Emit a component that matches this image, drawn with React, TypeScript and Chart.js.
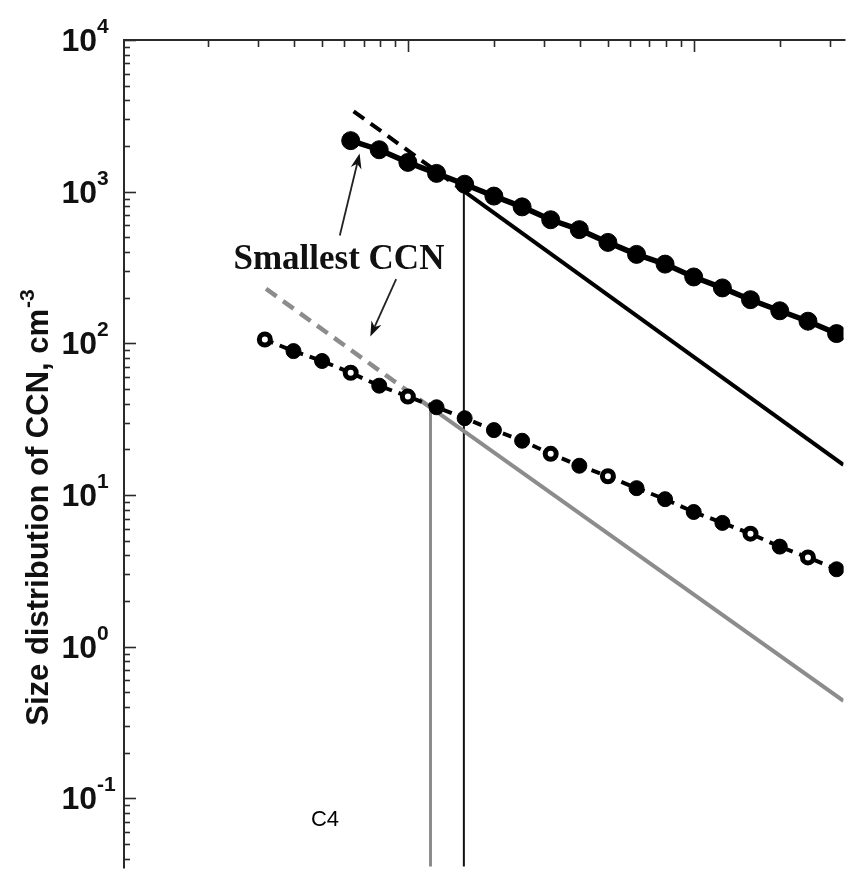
import React, { useEffect, useRef } from "react";
import { Chart, registerables } from "chart.js";

Chart.register(...registerables);

// ---- data ----
const topSizes = [0.0631, 0.0794, 0.1, 0.126, 0.158, 0.2, 0.251, 0.316, 0.398, 0.501, 0.631, 0.794, 1.0, 1.26, 1.58, 2.0, 2.51, 3.16];
const topValues = [2170, 1890, 1560, 1320, 1120, 935, 794, 653, 562, 463, 386, 333, 274, 232, 194, 164, 140, 116];

const lowSizes = [0.0316, 0.0398, 0.0501, 0.0631, 0.0794, 0.1, 0.126, 0.158, 0.2, 0.251, 0.316, 0.398, 0.501, 0.631, 0.794, 1.0, 1.26, 1.58, 2.0, 2.51, 3.16];
const lowValues = [106, 88.9, 76.5, 64.0, 52.6, 44.6, 37.9, 32.1, 26.8, 22.8, 18.7, 15.6, 13.3, 11.1, 9.39, 7.73, 6.55, 5.56, 4.57, 3.88, 3.24];
const lowOpen = [true, false, false, true, false, true, false, false, false, false, true, false, true, false, false, false, false, true, false, true, false];

const blackFitDashedX = [0.0646, 0.157];
const blackFitDashedY = [3390, 1009];
const blackFitSolidX = [0.157, 3.34];
const blackFitSolidY = [1009, 15.8];
const grayFitDashedX = [0.0319, 0.12];
const grayFitDashedY = [229, 37.8];
const grayFitSolidX = [0.12, 3.34];
const grayFitSolidY = [37.8, 0.44];
const blackCutX = [0.157, 0.157];
const blackCutY = [1009, 0.01];
const grayCutX = [0.12, 0.12];
const grayCutY = [37.8, 0.01];

const xRange = [0.010162, 3.342];
const yRange = [0.03556, 10000];
const yTickExponents = [-1, 0, 1, 2, 3, 4];

const labelText = "Smallest CCN";
const labelPos = [0.0574, 309];
const arrow1 = [0.0578, 514, 0.0678, 1782];
const arrow2 = [0.091, 265, 0.0739, 111];
const panelText = "C4";
const panelPos = [0.0513, 0.0719];
const yTitle = "Size distribution of CCN, cm";
const yTitleSup = "-3";

const zip = (xs: number[], ys: number[]) => xs.map((v, i) => ({ x: v, y: ys[i] }));

const GRAY = "#8c8c8c";

const decorPlugin = {
  id: "decor",
  beforeDraw(chart: any) {
    const ctx = chart.ctx;
    ctx.save();
    ctx.fillStyle = "#fff";
    ctx.fillRect(0, 0, chart.width, chart.height);
    ctx.restore();
  },
  afterDraw(chart: any) {
    const { ctx, chartArea } = chart;
    const xs = chart.scales.x;
    const ys = chart.scales.y;
    const L = chartArea.left;
    const T = chartArea.top;
    ctx.save();
    // axis lines
    ctx.strokeStyle = "#2a2a2a";
    ctx.lineWidth = 2;
    ctx.beginPath();
    ctx.moveTo(L, chartArea.bottom + 2);
    ctx.lineTo(L, T);
    ctx.lineTo(chartArea.right + 2, T);
    ctx.stroke();
    // y ticks
    ctx.lineWidth = 1.6;
    for (let e = -3; e <= 4; e++) {
      for (let m = 1; m <= 9; m++) {
        const v = m * Math.pow(10, e);
        if (v < yRange[0] || v > yRange[1] * 1.0001) continue;
        const py = Math.round(ys.getPixelForValue(v)) + 0.5;
        const len = m === 1 ? 12 : 6;
        ctx.beginPath();
        ctx.moveTo(L, py);
        ctx.lineTo(L + len, py);
        ctx.stroke();
      }
    }
    // x ticks (top)
    for (let e = -3; e <= 1; e++) {
      for (let m = 1; m <= 9; m++) {
        const v = m * Math.pow(10, e);
        if (v < xRange[0] * 1.0001 || v > xRange[1]) continue;
        const px = Math.round(xs.getPixelForValue(v)) + 0.5;
        const len = m === 1 ? 12 : 7;
        ctx.beginPath();
        ctx.moveTo(px, T);
        ctx.lineTo(px, T + len);
        ctx.stroke();
      }
    }
    // y tick labels
    ctx.fillStyle = "#111";
    for (const e of yTickExponents) {
      const py = ys.getPixelForValue(Math.pow(10, e));
      ctx.font = "bold 32px 'Liberation Sans', Arial, sans-serif";
      ctx.textAlign = "right";
      ctx.textBaseline = "alphabetic";
      ctx.fillText("10", 97, py + 11);
      ctx.font = "bold 21px 'Liberation Sans', Arial, sans-serif";
      ctx.textAlign = "left";
      ctx.fillText(String(e), 97, py - 7);
    }
    // y title
    ctx.save();
    ctx.translate(48, 508);
    ctx.rotate(-Math.PI / 2);
    ctx.font = "bold 31px 'Liberation Sans', Arial, sans-serif";
    const w1 = ctx.measureText(yTitle).width;
    ctx.font = "bold 21px 'Liberation Sans', Arial, sans-serif";
    const w2 = ctx.measureText(yTitleSup).width;
    const start = -(w1 + w2) / 2;
    ctx.textAlign = "left";
    ctx.textBaseline = "alphabetic";
    ctx.font = "bold 31px 'Liberation Sans', Arial, sans-serif";
    ctx.fillText(yTitle, start, 0);
    ctx.font = "bold 21px 'Liberation Sans', Arial, sans-serif";
    ctx.fillText(yTitleSup, start + w1 + 1, -14);
    ctx.restore();

    // annotation text
    ctx.fillStyle = "#111";
    ctx.font = "bold 35px 'Liberation Serif', 'Times New Roman', serif";
    ctx.textAlign = "center";
    ctx.textBaseline = "alphabetic";
    ctx.fillText(labelText, xs.getPixelForValue(labelPos[0]), ys.getPixelForValue(labelPos[1]));

    const drawArrow = (a: number[]) => {
      const x0 = xs.getPixelForValue(a[0]);
      const y0 = ys.getPixelForValue(a[1]);
      const x1 = xs.getPixelForValue(a[2]);
      const y1 = ys.getPixelForValue(a[3]);
      const ang = Math.atan2(y1 - y0, x1 - x0);
      const hl = 15;
      const hw = 5.5;
      ctx.strokeStyle = "#222";
      ctx.lineWidth = 1.8;
      ctx.beginPath();
      ctx.moveTo(x0, y0);
      ctx.lineTo(x1 - Math.cos(ang) * hl * 0.7, y1 - Math.sin(ang) * hl * 0.7);
      ctx.stroke();
      ctx.fillStyle = "#111";
      ctx.beginPath();
      ctx.moveTo(x1, y1);
      const bx = x1 - Math.cos(ang) * hl;
      const by = y1 - Math.sin(ang) * hl;
      const nx = -Math.sin(ang);
      const ny = Math.cos(ang);
      ctx.lineTo(bx + nx * hw, by + ny * hw);
      ctx.lineTo(x1 - Math.cos(ang) * hl * 0.7, y1 - Math.sin(ang) * hl * 0.7);
      ctx.lineTo(bx - nx * hw, by - ny * hw);
      ctx.closePath();
      ctx.fill();
    };
    drawArrow(arrow1);
    drawArrow(arrow2);

    ctx.fillStyle = "#000";
    ctx.font = "22px 'Liberation Sans', Arial, sans-serif";
    ctx.textAlign = "center";
    ctx.textBaseline = "middle";
    ctx.fillText(panelText, xs.getPixelForValue(panelPos[0]), ys.getPixelForValue(panelPos[1]));
    ctx.restore();
  },
};

export default function App() {
  const ref = useRef<HTMLCanvasElement>(null);
  useEffect(() => {
    const canvas = ref.current!;
    const chart = new Chart(canvas, {
      type: "scatter",
      data: {
        datasets: [
          {
            label: "CCN (upper)",
            data: zip(topSizes, topValues),
            showLine: true,
            borderColor: "#000",
            borderWidth: 5.5,
            pointRadius: 9,
            pointBackgroundColor: "#000",
            pointBorderColor: "#000",
            pointBorderWidth: 1,
            order: 0,
          },
          {
            label: "CCN (lower)",
            data: zip(lowSizes, lowValues),
            showLine: true,
            borderColor: "#000",
            borderWidth: 4,
            borderDash: [9, 7],
            pointRadius: lowOpen.map((o) => (o ? 5.5 : 7.5)),
            pointBackgroundColor: lowOpen.map((o) => (o ? "#fff" : "#000")),
            pointBorderColor: "#000",
            pointBorderWidth: lowOpen.map((o) => (o ? 5 : 1)),
            order: 0,
          },
          {
            label: "fit upper dashed",
            data: zip(blackFitDashedX, blackFitDashedY),
            showLine: true,
            borderColor: "#000",
            borderWidth: 4,
            borderDash: [13, 8],
            pointRadius: 0,
            order: 1,
          },
          {
            label: "fit upper",
            data: zip(blackFitSolidX, blackFitSolidY),
            showLine: true,
            borderColor: "#000",
            borderWidth: 4,
            pointRadius: 0,
            order: 1,
          },
          {
            label: "fit lower dashed",
            data: zip(grayFitDashedX, grayFitDashedY),
            showLine: true,
            borderColor: GRAY,
            borderWidth: 4.5,
            borderDash: [13, 8],
            pointRadius: 0,
            order: 2,
          },
          {
            label: "fit lower",
            data: zip(grayFitSolidX, grayFitSolidY),
            showLine: true,
            borderColor: GRAY,
            borderWidth: 4,
            pointRadius: 0,
            order: 2,
          },
          {
            label: "cut upper",
            data: zip(blackCutX, blackCutY),
            showLine: true,
            borderColor: "#111",
            borderWidth: 2,
            pointRadius: 0,
            order: 3,
          },
          {
            label: "cut lower",
            data: zip(grayCutX, grayCutY),
            showLine: true,
            borderColor: GRAY,
            borderWidth: 3,
            pointRadius: 0,
            order: 3,
          },
        ],
      },
      options: {
        responsive: false,
        maintainAspectRatio: false,
        animation: false,
        devicePixelRatio: 1,
        layout: { padding: { left: 124, top: 40, right: 0, bottom: 0 } },
        plugins: { legend: { display: false }, tooltip: { enabled: false } },
        events: [],
        scales: {
          x: { type: "logarithmic", min: xRange[0], max: xRange[1], display: false },
          y: { type: "logarithmic", min: yRange[0], max: yRange[1], display: false },
        },
      },
      plugins: [decorPlugin],
    });
    return () => chart.destroy();
  }, []);
  return (
    <div style={{ position: "fixed", left: 0, top: 0, width: 854, height: 877, background: "#fff" }}>
      <canvas ref={ref} width={854} height={877} style={{ display: "block" }} />
    </div>
  );
}
